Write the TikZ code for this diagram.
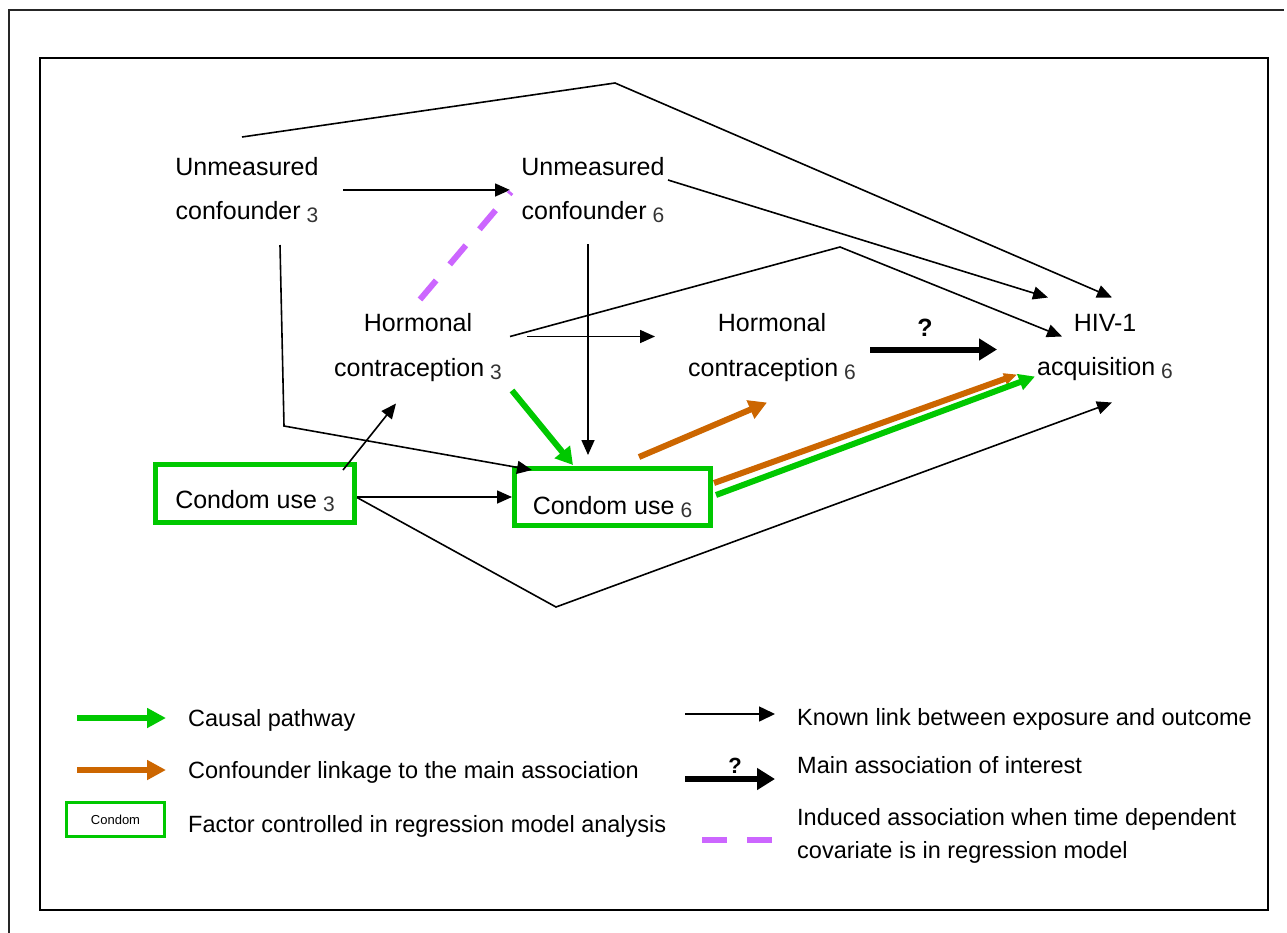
\documentclass[tikz,border=0pt]{standalone}
\usepackage{fontspec}
\setmainfont{Liberation Sans}
\usetikzlibrary{arrows.meta,calc}
\definecolor{cgreen}{RGB}{0,200,0}
\definecolor{corange}{RGB}{204,102,0}
\definecolor{cpurple}{RGB}{204,102,255}
\newcommand\subn[1]{\hspace{6pt}{\fontsize{21}{21}\selectfont\color{black!80}\raisebox{-3pt}{#1}}}
\begin{document}
\begin{tikzpicture}[x=1pt,y=-1pt,
  lab/.style={font=\fontsize{25}{44.5}\selectfont, align=center, inner sep=0pt},
  ctrl/.style={draw=cgreen, line width=5pt, inner sep=0pt, font=\fontsize{25}{30}\selectfont},
  link/.style={line width=1.6pt, -{Triangle[length=15pt,width=13pt]}},
  mainlink/.style={line width=6pt, -{Triangle[length=18pt,width=21pt]}},
  causal/.style={cgreen, line width=6pt, -{Triangle[length=17pt,width=19pt]}},
  conf/.style={corange, line width=6pt, -{Triangle[length=18pt,width=19pt]}},
  induced/.style={cpurple, line width=6pt, dash pattern=on 25pt off 21pt},
  legtext/.style={font=\fontsize{23.5}{33}\selectfont, align=left, inner sep=0pt, anchor=base west},
]
\useasboundingbox (0,0) rectangle (1287,932);
\clip (0,0) rectangle (1287,932);
% frames
\draw[line width=2.2pt, black!85] (9,960) -- (9,10) -- (1284,10);
\draw[line width=1.6pt] (40,58) rectangle (1268,910);

% nodes
\node[lab] (uc3) at (247,190) {Unmeasured\\confounder\subn{3}};
\node[lab] (uc6) at (593,190) {Unmeasured\\confounder\subn{6}};
\node[lab] (hc3) at (418,347.5) {Hormonal\\contraception\subn{3}};
\node[lab] (hc6) at (772,347.5) {Hormonal\\contraception\subn{6}};
\node[lab] (hiv) at (1105,347.5) {HIV-1\\acquisition\subn{6}};
\node[ctrl, minimum width=199pt, minimum height=58pt, text height=40pt, text depth=11pt] (cu3) at (255,493.5) {Condom use\subn{3}};
\node[ctrl, minimum width=196pt, minimum height=57pt, text height=42pt, text depth=8pt] (cu6) at (612.5,497) {Condom use\subn{6}};
\node[font=\bfseries\fontsize{25}{25}\selectfont, anchor=base, inner sep=0pt] (q1) at (925,336) {?};

% free bend points
\coordinate (p1) at (615,83);
\coordinate (p4) at (284,426);
\coordinate (p7) at (840,247);
\coordinate (p12) at (556,607);

% known links
\draw[link] ($(uc3)+(-5,-53)$) -- (p1) -- ($(hiv)+(7,-50)$);
\draw[link] ($(uc3)+(96,0)$) -- ($(uc6)+(-83,0)$);
\draw[link] ($(uc6)+(75,-10)$) -- ($(hiv)+(-57,-50)$);
\draw[link] ($(uc3)+(33,55)$) -- (p4) -- ($(cu6)+(-80.5,-27)$);
\draw[link] ($(uc6)+(-5,54)$) -- ($(cu6)+(-24.5,-42)$);
\draw[link] ($(hc3)+(109,-11)$) -- ($(hc6)+(-117,-11)$);
\draw[link] ($(hc3)+(92,-11)$) -- (p7) -- ($(hiv)+(-43,-11)$);
\draw[link] ($(cu3)+(88,-23.5)$) -- ($(hc3)+(-22,56)$);
\draw[link] ($(cu3.east)+(0,3.5)$) -- ($(cu6.west)+(0,0)$);
\draw[link] ($(cu3.east)+(0,4)$) -- (p12) -- ($(hiv)+(7,55)$);

% main association
\draw[mainlink] ($(hc6)+(98,2)$) -- ($(hiv)+(-108,2)$);

% causal pathway and confounder linkage
\draw[causal] ($(hc3)+(94,43)$) -- ($(cu6)+(-39.5,-32)$);
\draw[conf, -{Triangle[length=13pt,width=11pt]}] ($(cu6)+(101.5,-14)$) -- ($(hiv)+(-88,27)$);
\draw[cgreen, line width=6pt, -{Triangle[length=16pt,width=16pt]}] ($(cu6)+(103.5,-2)$) -- ($(hiv)+(-70,29)$);
\draw[conf] ($(cu6)+(26.5,-40)$) -- ($(hc6)+(-5,55)$);

% induced association
\draw[induced] ($(hc3)+(2,-48)$) -- ($(uc6)+(-82,2)$);

% legend left
\coordinate (lg1a) at (77,718); \coordinate (lg1b) at (166,718);
\coordinate (lg2a) at (77,770); \coordinate (lg2b) at (166,770);
\draw[causal, -{Triangle[length=19pt,width=19pt]}] (lg1a) -- (lg1b);
\draw[conf, -{Triangle[length=19pt,width=19pt]}] (lg2a) -- (lg2b);
\node[draw=cgreen, line width=3pt, minimum width=98pt, minimum height=34pt, inner sep=0pt, font=\fontsize{13}{13}\selectfont] (lgbox) at (115.5,819.5) {Condom};
\node[legtext] (lt1) at (188,726) {Causal pathway};
\node[legtext] (lt2) at (188,778) {Confounder linkage to the main association};
\node[legtext] (lt3) at (188,832) {Factor controlled in regression model analysis};

% legend right
\coordinate (lg3a) at (685,714); \coordinate (lg3b) at (775,714);
\coordinate (lg4a) at (685,779); \coordinate (lg4b) at (775,779);
\coordinate (lg5a) at (702,840); \coordinate (lg5b) at (772,840);
\draw[line width=1.6pt, -{Triangle[length=16pt,width=15pt]}] (lg3a) -- (lg3b);
\node[font=\bfseries\fontsize{22}{22}\selectfont, anchor=base, inner sep=0pt] (q2) at (735,773) {?};
\draw[mainlink] (lg4a) -- (lg4b);
\draw[induced, dash pattern=on 25pt off 20pt] (lg5a) -- (lg5b);
\node[legtext] (lt4) at (797,725) {Known link between exposure and outcome};
\node[legtext] (lt5) at (797,773) {Main association of interest};
\node[legtext] (lt6) at (797,858) {Induced association when time dependent\\covariate is in regression model};
\end{tikzpicture}
\end{document}
